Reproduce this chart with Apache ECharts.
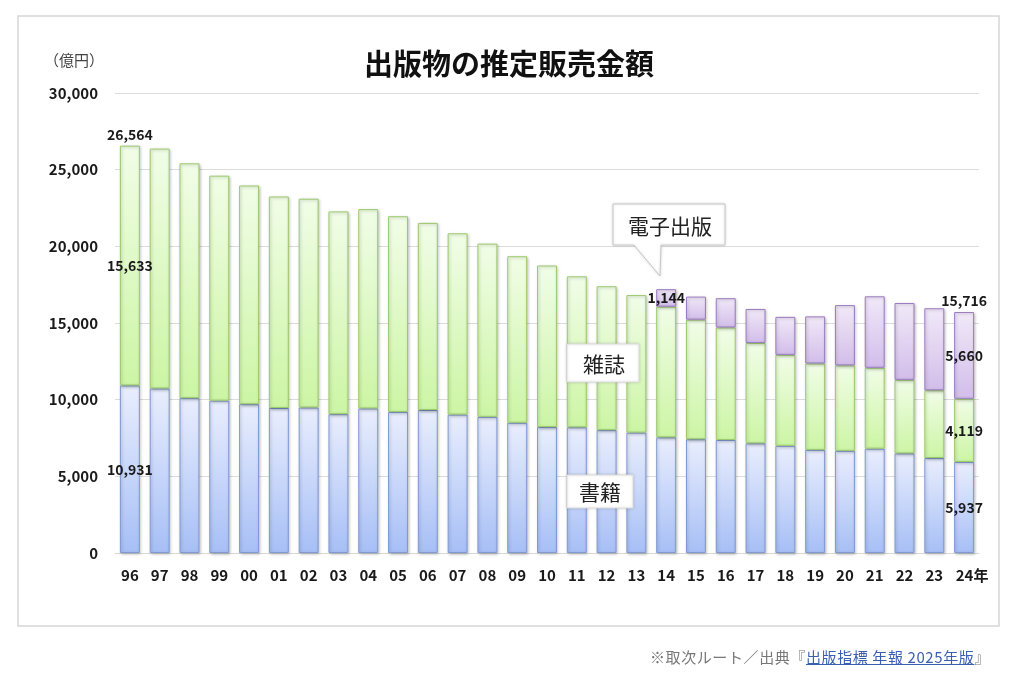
<!DOCTYPE html>
<html><head><meta charset="utf-8">
<script src="https://cdn.jsdelivr.net/npm/echarts@6/dist/echarts.min.js"></script>
<style>
html,body{margin:0;padding:0;background:#fff;}
#c{width:1024px;height:677px;}
#src{position:absolute;right:34px;top:646px;font-family:"Noto Sans CJK JP",sans-serif;font-size:15px;color:#777;letter-spacing:0.6px;}
#src span{color:#3b5fb0;text-decoration:underline;}
</style>
</head><body>
<div id="c"></div>
<div id="src">※取次ルート／出典『<span>出版指標 年報 2025年版</span>』</div>
<script>
const categories = ['96','97','98','99','00','01','02','03','04','05','06','07','08','09','10','11','12','13','14','15','16','17','18','19','20','21','22','23','24年'];
const books = [10931,10730,10100,9936,9706,9456,9490,9056,9429,9197,9326,9026,8878,8492,8213,8199,8013,7851,7544,7419,7370,7152,6991,6723,6661,6804,6497,6194,5937];
const magazines = [15633,15644,15315,14672,14261,13794,13616,13222,12998,12767,12200,11827,11299,10864,10536,9844,9385,8972,8520,7801,7339,6548,5930,5637,5576,5276,4795,4418,4119];
const ebooks = [null,null,null,null,null,null,null,null,null,null,null,null,null,null,null,null,null,null,1144,1502,1909,2215,2479,3072,3931,4662,5013,5351,5660];
const yTicks = [0,5000,10000,15000,20000,25000,30000];

const labelAt = {books:[0,28], magazines:[0,28], ebooks:[18,28]};
const totals = categories.map((_,i)=>books[i]+magazines[i]+(ebooks[i]||0));
const totalLabelIdx = [0,28];

const font = '"Noto Sans CJK JP", sans-serif';
const fmt = v => Number(v).toLocaleString('en-US');
const lblStyle = {show:true, position:'inside', color:'#1a1a1a', fontWeight:'bold', fontSize:14, fontFamily:font, formatter:p=>fmt(p.value)};
function withLabels(arr, idx){
  return arr.map((v,i)=> idx.includes(i) && v!=null ? {value:v, label:lblStyle} : v);
}
function grad(top,bottom){
  return {type:'linear',x:0,y:0,x2:0,y2:1,colorStops:[{offset:0,color:top},{offset:1,color:bottom}]};
}
const catData = categories.map((c,i)=> i===categories.length-1 ? {value:c, textStyle:{padding:[0,0,0,16]}} : c);
const chart = echarts.init(document.getElementById('c'));
const barCommon = {type:'bar', stack:'t', barWidth:'67%', label:{show:false}};
const shadow = {shadowBlur:3,shadowColor:'rgba(0,0,0,0.25)',shadowOffsetX:1,shadowOffsetY:1};
chart.setOption({
  animation:false,
  textStyle:{fontFamily:font},
  grid:{left:115,right:45,top:93,bottom:124},
  xAxis:{type:'category',data:catData,axisTick:{show:false},
    axisLine:{lineStyle:{color:'#d9d9d9'}},
    axisLabel:{interval:0,color:'#1a1a1a',fontWeight:'bold',fontSize:15,margin:15,fontFamily:font}},
  yAxis:{type:'value',min:0,max:30000,interval:5000,
    axisLabel:{color:'#1a1a1a',fontWeight:'bold',fontSize:15,margin:17,fontFamily:font,formatter:v=>yTicks.includes(v)?fmt(v):''},
    splitLine:{lineStyle:{color:'#dcdcdc'}}},
  series:[
    Object.assign({},barCommon,{name:'書籍',data:withLabels(books,labelAt.books),
      itemStyle:Object.assign({color:grad('#e9eefd','#a7bff6'),borderColor:'#7f9ad4',borderWidth:1},shadow)}),
    Object.assign({},barCommon,{name:'雑誌',data:withLabels(magazines,labelAt.magazines),
      itemStyle:Object.assign({color:grad('#f1fde7','#ccf5a4'),borderColor:'#9ccb6c',borderWidth:1},shadow)}),
    Object.assign({},barCommon,{name:'電子出版',data:withLabels(ebooks,labelAt.ebooks),
      itemStyle:Object.assign({color:grad('#f1e9f8','#d2bdea'),borderColor:'#9b7cc3',borderWidth:1},shadow)}),
    {type:'scatter',name:'合計',symbolSize:0,silent:true,itemStyle:{opacity:1},
      data:totals.map((v,i)=>totalLabelIdx.includes(i)?v:'-'),
      label:{show:true,position:'top',distance:4,color:'#1a1a1a',fontWeight:'bold',fontSize:14,fontFamily:font,formatter:p=>fmt(p.value)}}
  ],
  graphic:[
    {type:'rect',shape:{x:18,y:16,width:981,height:610},style:{fill:'none',stroke:'#d6d6d6',lineWidth:1.5},silent:true,z:-1},
    {type:'text',x:509,y:64,style:{text:'出版物の推定販売金額',font:'bold 29px "Noto Sans CJK JP", sans-serif',fill:'#111',align:'center',verticalAlign:'middle'}},
    {type:'text',x:74,y:60,style:{text:'（億円）',font:'15px "Noto Sans CJK JP", sans-serif',fill:'#444',align:'center',verticalAlign:'middle'}},
    {type:'polygon',shape:{points:[[613,204],[725,204],[725,245],[661,245],[660,276],[634,245],[613,245]]},
      style:{fill:'#fff',stroke:'#c8c8c8',lineWidth:1,shadowBlur:3,shadowColor:'rgba(0,0,0,0.15)'},z:10},
    {type:'text',x:670,y:226,style:{text:'電子出版',font:'21px "Noto Sans CJK JP", sans-serif',fill:'#222',align:'center',verticalAlign:'middle'},z:11},
    {type:'rect',shape:{x:567,y:344,width:72,height:38},style:{fill:'#fff',stroke:'#dcdcdc',lineWidth:1,shadowBlur:3,shadowColor:'rgba(0,0,0,0.15)'},z:10},
    {type:'text',x:604,y:364,style:{text:'雑誌',font:'21px "Noto Sans CJK JP", sans-serif',fill:'#222',align:'center',verticalAlign:'middle'},z:11},
    {type:'rect',shape:{x:567,y:475,width:66,height:33},style:{fill:'#fff',stroke:'#dcdcdc',lineWidth:1,shadowBlur:3,shadowColor:'rgba(0,0,0,0.15)'},z:10},
    {type:'text',x:600,y:492,style:{text:'書籍',font:'21px "Noto Sans CJK JP", sans-serif',fill:'#222',align:'center',verticalAlign:'middle'},z:11}
  ]
});
</script>
</body></html>
